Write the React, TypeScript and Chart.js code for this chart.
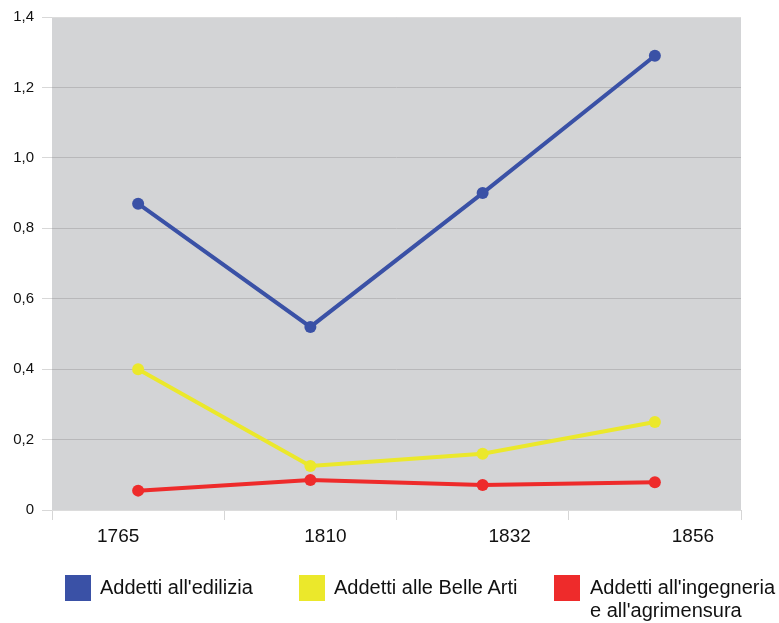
import React, { useEffect, useRef } from "react";
import { Chart, registerables } from "chart.js";

Chart.register(...registerables);

const categories = ["1765", "1810", "1832", "1856"];
const edilizia = [0.87, 0.52, 0.9, 1.29];
const belleArti = [0.4, 0.125, 0.16, 0.25];
const ingegneria = [0.055, 0.085, 0.071, 0.079];
const yTicks = [0, 0.2, 0.4, 0.6, 0.8, 1.0, 1.2, 1.4];

const BLUE = "#3a51a6";
const YELLOW = "#ebe82b";
const RED = "#ee2b2b";
const FONT = "'Liberation Sans', Arial, sans-serif";

// horizontal shift of the category captions relative to the point centres
const captionShift = [-20, 15, 27, 38];

const captionPlugin = {
  id: "captions",
  afterDraw(chart: any) {
    const ctx = chart.ctx;
    const xs = chart.scales.x;
    const bottom = chart.chartArea.bottom;
    ctx.save();
    ctx.font = `19px ${FONT}`;
    ctx.fillStyle = "#111";
    ctx.textAlign = "center";
    ctx.textBaseline = "middle";
    categories.forEach((c, i) => {
      ctx.fillText(c, xs.getPixelForValue(i) + captionShift[i], bottom + 27);
    });
    ctx.restore();
  },
};

const plotBg = {
  id: "plotBg",
  beforeDraw(chart: any) {
    const { ctx, chartArea } = chart;
    ctx.save();
    ctx.fillStyle = "#d3d4d6";
    ctx.fillRect(chartArea.left, chartArea.top, chartArea.right - chartArea.left, chartArea.bottom - chartArea.top);
    ctx.restore();
  },
};

export default function App() {
  const ref = useRef<HTMLCanvasElement | null>(null);
  useEffect(() => {
    if (!ref.current) return;
    const mk = (label: string, data: number[], color: string) => ({
      label,
      data,
      borderColor: color,
      backgroundColor: color,
      borderWidth: 4,
      pointRadius: 6,
      pointBorderWidth: 0,
      pointBackgroundColor: color,
      tension: 0,
    });
    const chart = new Chart(ref.current, {
      type: "line",
      data: {
        labels: categories,
        datasets: [
          mk("Addetti all'edilizia", edilizia, BLUE),
          mk("Addetti alle Belle Arti", belleArti, YELLOW),
          mk("Addetti all'ingegneria e all'agrimensura", ingegneria, RED),
        ],
      },
      options: {
        animation: false,
        responsive: false,
        layout: { padding: { top: 17, right: 38, bottom: 0, left: 0 } },
        plugins: { legend: { display: false }, tooltip: { enabled: false } },
        scales: {
          x: {
            offset: true,
            grid: {
              offset: true,
              drawOnChartArea: false,
              drawTicks: true,
              tickLength: 10,
              tickColor: "#d6d6d6",
            },
            border: { display: false },
            ticks: { color: "rgba(0,0,0,0)", font: { size: 19, family: FONT } },
            afterFit: (s: any) => {
              s.height = 113;
            },
          },
          y: {
            min: 0,
            max: 1.4,
            afterBuildTicks: (s: any) => {
              s.ticks = yTicks.map((v) => ({ value: v }));
            },
            grid: {
              color: (c: any) =>
                c.tick && (c.tick.value === 1.4 || c.tick.value === 0) ? "#dcdcdc" : "#b8b8ba",
              lineWidth: 1,
              tickLength: 10,
              tickColor: "#d8d8d8",
            },
            border: { display: false },
            ticks: {
              color: "#111",
              padding: 8,
              font: { size: 15, family: FONT },
              callback: (v: any) => (v === 0 ? "0" : Number(v).toFixed(1).replace(".", ",")),
            },
            afterFit: (s: any) => {
              s.width = 52;
            },
          },
        },
      },
      plugins: [plotBg, captionPlugin],
    });
    return () => chart.destroy();
  }, []);

  const legendItems = [
    { color: BLUE, left: 65, textLeft: 100, lines: ["Addetti all'edilizia"] },
    { color: YELLOW, left: 299, textLeft: 334, lines: ["Addetti alle Belle Arti"] },
    { color: RED, left: 554, textLeft: 590, lines: ["Addetti all'ingegneria", "e all'agrimensura"] },
  ];

  return (
    <div style={{ position: "fixed", left: 0, top: 0, width: 779, height: 623, background: "#fff" }}>
      <canvas ref={ref} width={779} height={623} style={{ display: "block" }} />
      {legendItems.map((it, i) => (
        <React.Fragment key={i}>
          <div
            style={{
              position: "absolute",
              left: it.left,
              top: 575,
              width: 26,
              height: 26,
              background: it.color,
            }}
          />
          <div
            style={{
              position: "absolute",
              left: it.textLeft,
              top: 576,
              fontFamily: FONT,
              fontSize: 20,
              lineHeight: "23px",
              color: "#111",
              whiteSpace: "nowrap",
            }}
          >
            {it.lines.map((l, j) => (
              <div key={j}>{l}</div>
            ))}
          </div>
        </React.Fragment>
      ))}
    </div>
  );
}
